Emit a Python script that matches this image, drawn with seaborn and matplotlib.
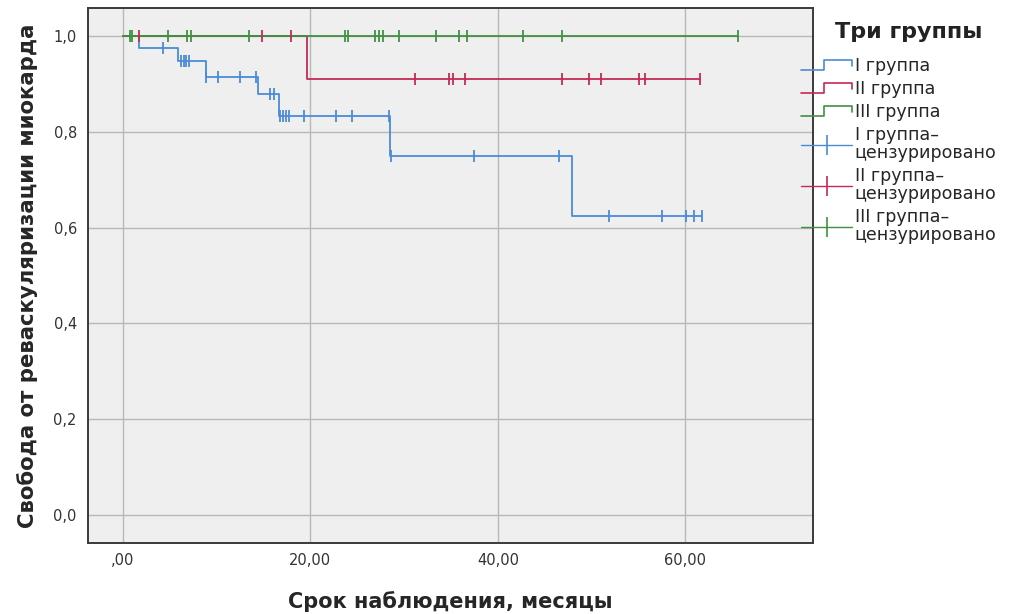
import numpy as np
import pandas as pd
import matplotlib
matplotlib.use("Agg")
import matplotlib.pyplot as plt
from matplotlib.lines import Line2D
from matplotlib.legend_handler import HandlerBase
import seaborn as sns

# Kaplan-Meier steps (time, survival after the step)
groups = ["I группа", "II группа", "III группа"]
colors = ["#4A8BD8", "#C42A55", "#3F9142"]

g1_step_t = [0.0, 1.7, 5.9, 8.85, 14.4, 16.7, 28.5, 47.9]
g1_step_s = [1.0, 0.975, 0.948, 0.914, 0.879, 0.833, 0.749, 0.624]
g1_cens = [4.3, 6.2, 6.5, 6.8, 7.1, 8.9, 10.2, 12.5, 14.25, 15.7, 16.1,
           16.8, 17.1, 17.4, 17.7, 19.3, 22.7, 24.4, 28.4, 28.6, 37.5, 46.5,
           51.8, 57.5, 60.1, 60.9, 61.8]

g2_step_t = [0.0, 19.7]
g2_step_s = [1.0, 0.909]
g2_cens = [1.7, 14.9, 17.9, 31.2, 34.8, 35.2, 36.5, 46.8, 49.7, 51.0,
           55.0, 55.7, 61.6]

g3_step_t = [0.0]
g3_step_s = [1.0]
g3_cens = [0.75, 1.0, 4.8, 6.9, 7.3, 13.5, 23.7, 24.0, 26.9, 27.3, 27.75,
           29.5, 33.4, 35.9, 36.7, 42.7, 46.8, 65.6]

x_ticks = [0, 20, 40, 60]
x_ticklabels = [",00", "20,00", "40,00", "60,00"]
y_ticks = [0.0, 0.2, 0.4, 0.6, 0.8, 1.0]
y_ticklabels = ["0,0", "0,2", "0,4", "0,6", "0,8", "1,0"]

steps = [(g1_step_t, g1_step_s, g1_cens),
         (g2_step_t, g2_step_s, g2_cens),
         (g3_step_t, g3_step_s, g3_cens)]

line_rows = []
cens_rows = []
for name, (st, ss, cens) in zip(groups, steps):
    for t, s in zip(st, ss):
        line_rows.append((name, t, s))
    line_rows.append((name, max(cens), ss[-1]))
    for t in cens:
        idx = np.searchsorted(st, t, side="right") - 1
        cens_rows.append((name, t, ss[idx]))

lines_df = pd.DataFrame(line_rows, columns=["group", "time", "surv"])
cens_df = pd.DataFrame(cens_rows, columns=["group", "time", "surv"])

sns.set_style("whitegrid")
plt.rcParams["font.family"] = ["DejaVu Sans"]

fig = plt.figure(figsize=(10.09, 6.14), dpi=100)
ax = fig.add_axes([0.0872, 0.1156, 0.7186, 0.8714])
ax.set_facecolor("#EFEFEF")

palette = dict(zip(groups, colors))
sns.lineplot(data=lines_df, x="time", y="surv", hue="group", palette=palette,
             estimator=None, sort=True, drawstyle="steps-post", linewidth=1.3,
             legend=False, ax=ax)
for name in groups:
    sub = cens_df[cens_df["group"] == name]
    ax.plot(sub["time"], sub["surv"], linestyle="none", marker="|",
            markersize=9, markeredgewidth=1.3, color=palette[name])

ax.set_xlim(-3.7, 73.6)
ax.set_ylim(-0.058, 1.058)
ax.set_xticks(x_ticks)
ax.set_xticklabels(x_ticklabels)
ax.set_yticks(y_ticks)
ax.set_yticklabels(y_ticklabels)
ax.grid(True, color="#B8B8B8", linewidth=1.0)
ax.tick_params(length=0, labelsize=10.5, labelcolor="#333333")
ax.tick_params(axis="y", pad=8)
ax.tick_params(axis="x", pad=7)
for sp in ax.spines.values():
    sp.set_color("#3A3A3A")
    sp.set_linewidth(1.4)

ax.set_xlabel("Срок наблюдения, месяцы", fontsize=15, fontweight="bold",
              labelpad=17)
ax.set_ylabel("Свобода от реваскуляризации миокарда", fontsize=15.3,
              fontweight="bold", labelpad=11)


class StepHandler(HandlerBase):
    def create_artists(self, legend, orig_handle, xdescent, ydescent,
                       width, height, fontsize, trans):
        x0 = -xdescent
        y0 = -ydescent
        xs = [x0, x0 + 0.45 * width, x0 + 0.45 * width, x0 + width, x0 + width]
        ys = [y0 + 0.1 * height, y0 + 0.1 * height, y0 + 0.95 * height,
              y0 + 0.95 * height, y0 + 0.45 * height]
        ln = Line2D(xs, ys, color=orig_handle.get_color(), linewidth=1.2,
                    transform=trans)
        return [ln]


step_handles = [Line2D([], [], color=c) for c in colors]
cens_handles = [Line2D([], [], color=c, marker="|", markersize=14,
                       markeredgewidth=1.2, linewidth=1.0) for c in colors]
labels = groups + [g + "–\nцензурировано" for g in groups]
handler_map = {h: StepHandler() for h in step_handles}
leg = ax.legend(step_handles + cens_handles, labels, handler_map=handler_map,
                loc="upper left", bbox_to_anchor=(0.962, 0.937),
                frameon=False, fontsize=12.6,
                handlelength=2.9, handletextpad=0.15, labelspacing=0.28,
                alignment="left")
for txt in leg.get_texts():
    txt.set_linespacing(1.0)

fig.text(835 / 1009, 1 - 32 / 614, "Три группы", fontsize=16,
         fontweight="bold", color="#222222", ha="left", va="center")

fig.savefig("out.png", dpi=100)
